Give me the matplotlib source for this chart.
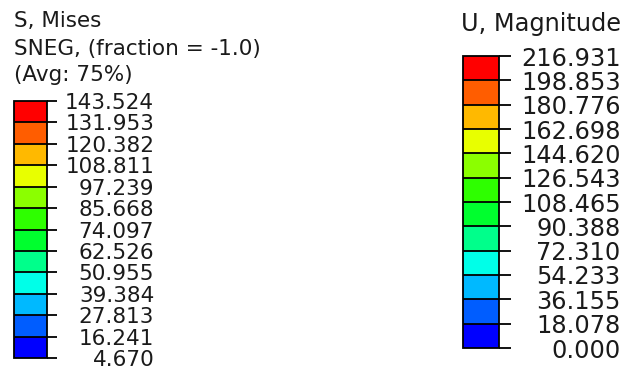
import matplotlib
matplotlib.use("Agg")
import matplotlib.pyplot as plt
from matplotlib.colors import ListedColormap, BoundaryNorm
from matplotlib.colorbar import ColorbarBase

# abaqus default spectrum, bottom -> top
SPECTRUM = ["#0000ff", "#005dff", "#00b9ff", "#00ffe8", "#00ff8b", "#00ff2e",
            "#2eff00", "#8bff00", "#e8ff00", "#ffb900", "#ff5d00", "#ff0000"]

mises_levels = [4.670, 16.241, 27.813, 39.384, 50.955, 62.526, 74.097,
                85.668, 97.239, 108.811, 120.382, 131.953, 143.524]
mises_labels = ["4.670", "16.241", "27.813", "39.384", "50.955", "62.526", "74.097",
                "85.668", "97.239", "108.811", "120.382", "131.953", "143.524"]
u_levels = [0.000, 18.078, 36.155, 54.233, 72.310, 90.388, 108.465,
            126.543, 144.620, 162.698, 180.776, 198.853, 216.931]
u_labels = ["0.000", "18.078", "36.155", "54.233", "72.310", "90.388", "108.465",
            "126.543", "144.620", "162.698", "180.776", "198.853", "216.931"]

W, H = 629, 374
TXT = "#1a1a1a"
fig = plt.figure(figsize=(W/100, H/100), dpi=100)

def legend(x0, top, x1, bottom, levels, labels, ticklen, pad, fs):
    cax = fig.add_axes([x0/W, 1-bottom/H, (x1-x0)/W, (bottom-top)/H])
    cmap = ListedColormap(SPECTRUM)
    norm = BoundaryNorm(levels, cmap.N)
    cb = ColorbarBase(cax, cmap=cmap, norm=norm, boundaries=levels,
                      ticks=levels, drawedges=True, spacing="uniform")
    cb.outline.set_linewidth(1.3)
    cb.dividers.set_linewidth(1.3)
    cb.dividers.set_color("black")
    cax.yaxis.set_ticks_position("right")
    cax.set_yticklabels(labels)
    cax.tick_params(axis="y", length=ticklen, width=1.3, color="black",
                    pad=pad, labelsize=fs, labelcolor=TXT)
    for t in cax.get_yticklabels():
        t.set_ha("right")
    return cax

legend(14, 101, 47, 358, mises_levels, mises_labels, 7.2, 70, 15.5)
legend(463, 56, 499, 348, u_levels, u_labels, 8.6, 79, 17.3)

fig.text(14/W, 1-21/H, "S, Mises", fontsize=15.5, color=TXT, va="center", ha="left")
fig.text(14/W, 1-49/H, "SNEG, (fraction = -1.0)", fontsize=15.5, color=TXT, va="center", ha="left")
fig.text(14/W, 1-75/H, "(Avg: 75%)", fontsize=15.5, color=TXT, va="center", ha="left")
fig.text(621/W, 1-24/H, "U, Magnitude", fontsize=17.3, color=TXT, va="center", ha="right")

fig.savefig("out.png", dpi=100, facecolor="white")
